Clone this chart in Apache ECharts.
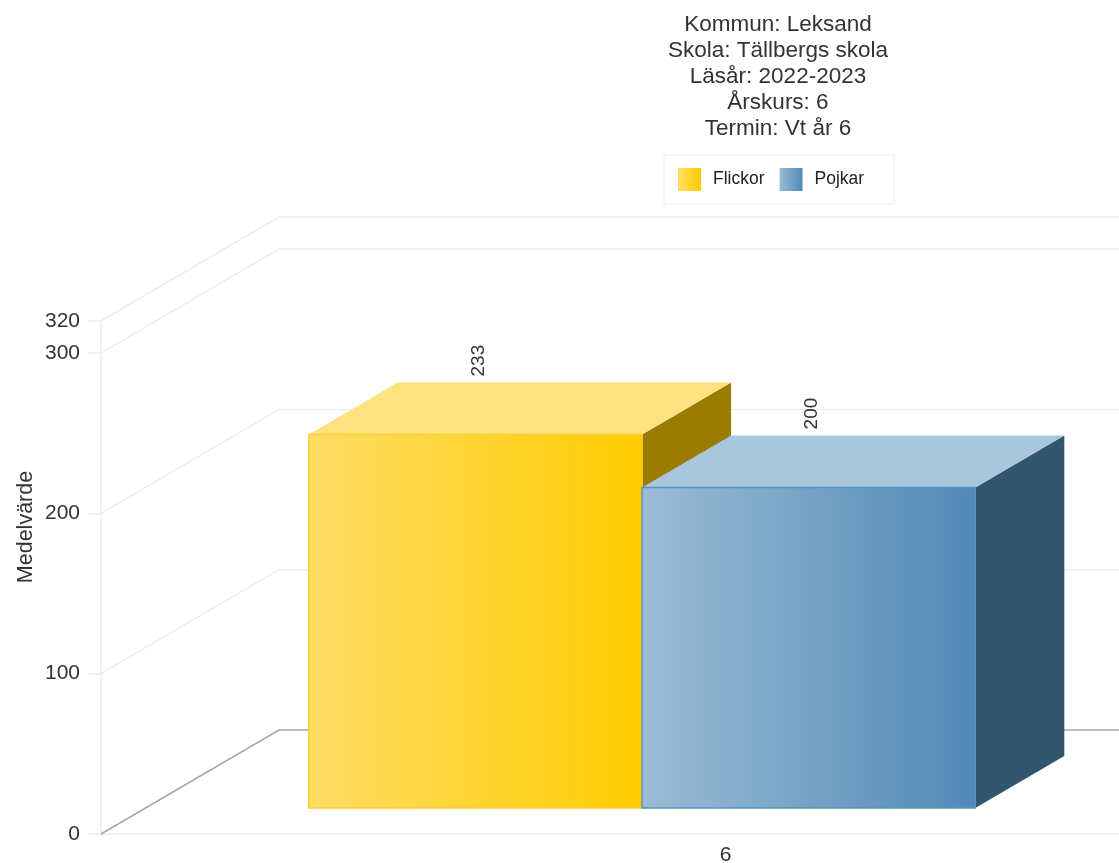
<!DOCTYPE html>
<html>
<head>
<meta charset="utf-8">
<style>html,body{margin:0;padding:0;background:#fff}#c{width:1119px;height:863px}</style>
<script src="https://cdn.jsdelivr.net/npm/echarts@6/dist/echarts.min.js"></script>
</head>
<body>
<div id="c"></div>
<script>
const categories = ['6'];
const flickor = [233];
const pojkar = [200];
const gridValues = [0, 100, 200, 300, 320];
const titleLines = ['Kommun: Leksand', 'Skola: Tällbergs skola', 'Läsår: 2022-2023', 'Årskurs: 6', 'Termin: Vt år 6'];
const FONT = '"Liberation Sans", Arial, sans-serif';

const wallDx = 178, wallDy = 104;      // depth of the whole 3D box
const barDx = 89, barDy = 52;          // depth of one bar
const floorDy = 26;                    // bars stand in from the front plane

const chart = echarts.init(document.getElementById('c'), null, {renderer: 'canvas'});

function renderGrid(params, api) {
  const v = api.value(1);
  const p = api.coord([0, v]);
  const x0 = params.coordSys.x, x1 = x0 + wallDx, y0 = p[1], y1 = y0 - wallDy;
  return {
    type: 'polyline', silent: true,
    shape: {points: [[x0, y0], [x1, y1], [1125, y1]]},
    style: {fill: null, stroke: v === 0 ? '#a6a6a6' : '#ededed', lineWidth: 1.5}
  };
}

function makeBar(slot, c) {
  return function (params, api) {
    const top = api.coord([api.value(0), api.value(1)]);
    const base = api.coord([api.value(0), 0]);
    const band = api.size([1, 0])[0];
    const w = band * 0.2668;
    const xl = top[0] - band * 0.3336 + slot * w;
    const xr = xl + w;
    const yt = top[1] - floorDy;
    const yb = base[1] - floorDy;
    const front = [[xl, yt], [xr, yt], [xr, yb], [xl, yb]];
    const lid = [[xl, yt], [xl + barDx, yt - barDy], [xr + barDx, yt - barDy], [xr, yt]];
    const side = [[xr, yt], [xr + barDx, yt - barDy], [xr + barDx, yb - barDy], [xr, yb]];
    return {
      type: 'group', silent: true,
      children: [
        {type: 'polygon', shape: {points: side}, style: {fill: c.side}},
        {type: 'polygon', shape: {points: lid}, style: {fill: c.lid}},
        {type: 'polygon', shape: {points: front}, style: {fill: c.grad, stroke: c.edge, lineWidth: 1.5}},
        {type: 'text', x: (xl + xr) / 2 + 3, y: yt - barDy - 6, rotation: Math.PI / 2,
         style: {text: String(api.value(1)), fill: '#333', font: '19px ' + FONT, textAlign: 'left', textVerticalAlign: 'middle'}}
      ]
    };
  };
}

const grad = (a, b) => ({type: 'linear', x: 0, y: 0, x2: 1, y2: 0, colorStops: [{offset: 0, color: a}, {offset: 1, color: b}]});
const yellow = {grad: grad('#ffdd66', '#ffcc00'), lid: '#fee27f', side: '#9a7c00', edge: '#f7cf2e'};
const blue = {grad: grad('#9bbcd5', '#5089b6'), lid: '#a8c6dc', side: '#33566f', edge: '#5a93bd'};

chart.setOption({
  animation: false,
  backgroundColor: '#fff',
  title: {
    text: titleLines.join('\n'), left: 773, top: 7, textAlign: 'center',
    textStyle: {fontFamily: FONT, fontSize: 22.5, fontWeight: 'normal', color: '#333', lineHeight: 26}
  },
  legend: {
    data: ['Flickor', 'Pojkar'], left: 664, top: 155, orient: 'horizontal',
    padding: [13, 30, 13, 14], itemWidth: 23, itemHeight: 23, itemGap: 15, icon: 'rect',
    borderColor: '#eeeeee', borderWidth: 1, selectedMode: false,
    textStyle: {fontFamily: FONT, fontSize: 17.5, color: '#222', padding: [0, 0, 0, 7]}
  },
  grid: {left: 101, right: -231, top: 321, bottom: 29, outerBoundsMode: 'none'},
  xAxis: {
    type: 'category', data: categories, offset: 2,
    axisLine: {show: true, lineStyle: {color: '#ededed', width: 1.5}},
    axisTick: {show: false},
    axisLabel: {fontFamily: FONT, fontSize: 21, color: '#333', margin: 9},
    splitLine: {show: false}
  },
  yAxis: {
    type: 'value', min: 0, max: 320, interval: 100,
    axisLine: {show: true, lineStyle: {color: '#ededed', width: 1.5}},
    axisTick: {show: true, length: 13, lineStyle: {color: '#ededed', width: 1.5}},
    axisLabel: {fontFamily: FONT, fontSize: 21, color: '#333', margin: 21},
    splitLine: {show: false}
  },
  graphic: [{
    type: 'text', x: 26, y: 527, rotation: Math.PI / 2, silent: true,
    style: {text: 'Medelvärde', fill: '#333', font: '21.5px ' + FONT, textAlign: 'center', textVerticalAlign: 'middle'}
  }],
  series: [
    {type: 'custom', name: 'grid', renderItem: renderGrid, silent: true, z: 1,
     data: gridValues.map(v => [0, v]), encode: {x: 0, y: 1}},
    {type: 'custom', name: 'Flickor', renderItem: makeBar(0, yellow), silent: true, z: 2,
     itemStyle: {color: yellow.grad},
     data: flickor.map((v, i) => [i, v]), encode: {x: 0, y: 1}},
    {type: 'custom', name: 'Pojkar', renderItem: makeBar(1, blue), silent: true, z: 3,
     itemStyle: {color: blue.grad},
     data: pojkar.map((v, i) => [i, v]), encode: {x: 0, y: 1}}
  ]
});
</script>
</body>
</html>
